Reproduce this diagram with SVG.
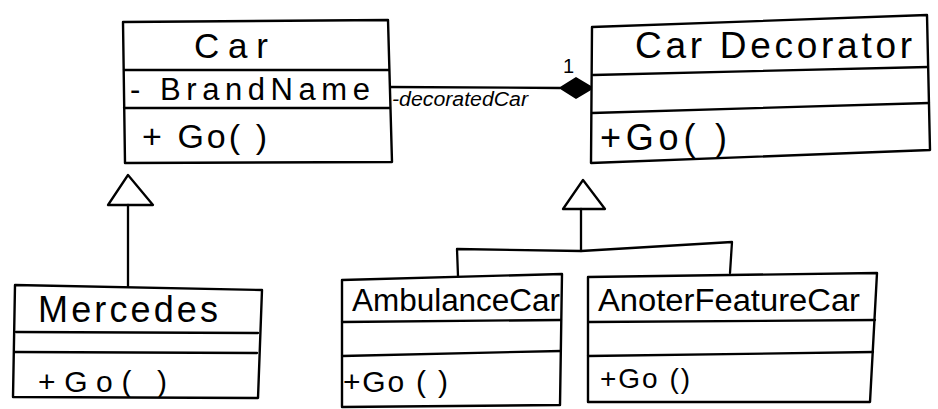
<svg xmlns="http://www.w3.org/2000/svg" width="938" height="409" viewBox="0 0 938 409">
<style>
.box{fill:#fff;stroke:#000;stroke-width:2.4;stroke-linejoin:round;stroke-linecap:round}
.ln{fill:none;stroke:#000;stroke-width:2.3;stroke-linecap:round;stroke-linejoin:round}
.t{font-family:"Liberation Sans","Open Sans",sans-serif;fill:#000}
.lbl{font-family:"Liberation Sans","Open Sans",sans-serif;font-style:italic;fill:#000}
</style>
<rect width="938" height="409" fill="#fff"/>
<g id="connectors">
  <path class="ln" d="M388 87 L560 88"/>
  <path d="M560 88 L576 78 L593 88 L576 98 Z" fill="#000" stroke="#000" stroke-width="1.5"/>
  <text class="t" x="563" y="73" font-size="20">1</text>
  <text class="lbl" x="392" y="106" font-size="20" textLength="136" lengthAdjust="spacingAndGlyphs">-decoratedCar</text>
  <path class="ln" d="M128 287 L128 205"/>
  <path class="ln" d="M128 175 L108 205 L153 205 Z" fill="#fff"/>
  <path class="ln" d="M458 276 L457 249 L581 251 L732 242 L730 273"/>
  <path class="ln" d="M581 251 L581 209"/>
  <path class="ln" d="M583 180 L563 209 L605 209 Z" fill="#fff"/>
</g>
<g id="Car">
  <path class="box" d="M123 22 L388 20 L392 162 L125 163 Z"/>
  <path class="ln" d="M124 70 L389 70"/>
  <path class="ln" d="M124 108 L390 108"/>
  <text class="t" x="194" y="58" font-size="35" textLength="74" lengthAdjust="spacing">Car</text>
  <text class="t" x="130" y="100" font-size="31" textLength="240" lengthAdjust="spacing">- BrandName</text>
  <text class="t" x="142" y="148" font-size="34" textLength="125" lengthAdjust="spacing">+ Go( )</text>
</g>
<g id="CarDecorator">
  <path class="box" d="M592 27 L927 15 L930 150 L591 163 Z"/>
  <path class="ln" d="M593 75 L928 67"/>
  <path class="ln" d="M592 113 L929 103"/>
  <text class="t" x="635" y="58" font-size="37" textLength="277" lengthAdjust="spacing">Car Decorator</text>
  <text class="t" x="600" y="150" font-size="36" textLength="127" lengthAdjust="spacing">+Go( )</text>
</g>
<g id="Mercedes">
  <path class="box" d="M15 285 L262 290 L258 398 L13 397 Z"/>
  <path class="ln" d="M16 332 L258 333"/>
  <path class="ln" d="M15 352 L257 353"/>
  <text class="t" x="38" y="322" font-size="36" textLength="180" lengthAdjust="spacing">Mercedes</text>
  <text class="t" x="38" y="392" font-size="30" textLength="129" lengthAdjust="spacing">+Go( )</text>
</g>
<g id="AmbulanceCar">
  <path class="box" d="M342 280 L562 274 L560 405 L342 407 Z"/>
  <path class="ln" d="M342 322 L561 320"/>
  <path class="ln" d="M342 356 L561 351"/>
  <text class="t" x="352" y="311" font-size="31" textLength="208" lengthAdjust="spacingAndGlyphs">AmbulanceCar</text>
  <text class="t" x="343" y="392" font-size="30" textLength="105" lengthAdjust="spacing">+Go ( )</text>
</g>
<g id="AnoterFeatureCar">
  <path class="box" d="M588 277 L877 273 L870 402 L588 402 Z"/>
  <path class="ln" d="M589 322 L875 320"/>
  <path class="ln" d="M588 356 L873 352"/>
  <text class="t" x="598" y="311" font-size="31" textLength="262" lengthAdjust="spacingAndGlyphs">AnoterFeatureCar</text>
  <text class="t" x="600" y="388" font-size="28" textLength="90" lengthAdjust="spacing">+Go ()</text>
</g>
</svg>
